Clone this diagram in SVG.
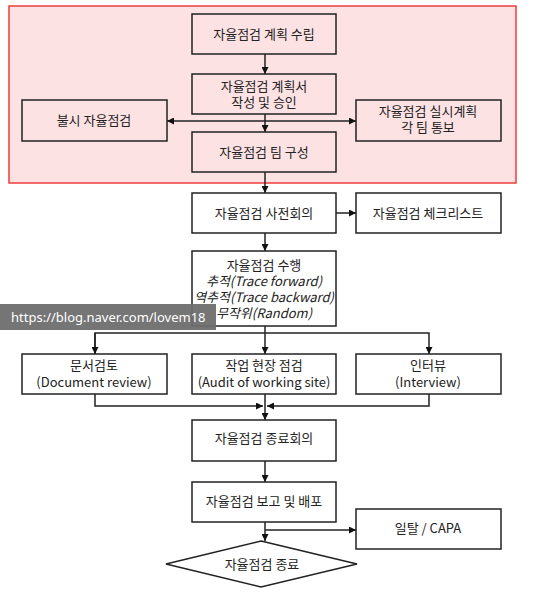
<svg xmlns="http://www.w3.org/2000/svg" width="537" height="599" viewBox="0 0 537 599">
<style>
.box{fill:#fff;stroke:#222;stroke-width:1.5}
.pbox{fill:#fde2e4;stroke:#222;stroke-width:1.5}
.t{font-family:"Noto Sans CJK KR","Malgun Gothic",sans-serif;font-size:13px;fill:#222;text-anchor:middle}
.it{font-style:italic}
.ln{fill:none;stroke:#222;stroke-width:1.5}
</style>
<defs>
<marker id="ah" viewBox="0 0 10 10" refX="10" refY="5" markerWidth="7" markerHeight="7" markerUnits="userSpaceOnUse" orient="auto-start-reverse">
<path d="M0,0 L10,5 L0,10 z" fill="#111"/>
</marker>
</defs>
<rect id="region" x="9" y="6" width="507" height="177" fill="#fde2e4" stroke="#f03c3c" stroke-width="1.5"/>
<g id="connectors">
<path class="ln" d="M265,54 V74" marker-end="url(#ah)"/>
<path class="ln" d="M265,114 V132" marker-end="url(#ah)"/>
<path class="ln" d="M167,121 H356" marker-start="url(#ah)" marker-end="url(#ah)"/>
<path class="ln" d="M265,172 V193" marker-end="url(#ah)"/>
<path class="ln" d="M336,213 H356" marker-end="url(#ah)"/>
<path class="ln" d="M265,233 V251" marker-end="url(#ah)"/>
<path class="ln" d="M265,326 V354" marker-end="url(#ah)"/>
<path class="ln" d="M95,354 V333 H429 V354" marker-end="url(#ah)"/>
<path class="ln" d="M95,333 V354" marker-end="url(#ah)"/>
<path class="ln" d="M95,394 V406 H263" marker-end="url(#ah)"/>
<path class="ln" d="M429,394 V406 H267" marker-end="url(#ah)"/>
<path class="ln" d="M265,394 V420" marker-end="url(#ah)"/>
<path class="ln" d="M265,461 V482" marker-end="url(#ah)"/>
<path class="ln" d="M265,522 V541" marker-end="url(#ah)"/>
<path class="ln" d="M265,530 H356" marker-end="url(#ah)"/>
</g>
<g id="n1"><rect class="pbox" x="192" y="14" width="144" height="40"/><text class="t" x="264" y="38.5">자율점검 계획 수립</text></g>
<g id="n2"><rect class="pbox" x="192" y="74" width="144" height="40"/><text class="t" x="264" y="90.5">자율점검 계획서<tspan x="264" dy="16">작성 및 승인</tspan></text></g>
<g id="n3"><rect class="pbox" x="22" y="100" width="145" height="41"/><text class="t" x="94" y="125">불시 자율점검</text></g>
<g id="n4"><rect class="pbox" x="356" y="100" width="145" height="41"/><text class="t" x="428" y="116">자율점검 실시계획<tspan x="428" dy="16">각 팀 통보</tspan></text></g>
<g id="n5"><rect class="pbox" x="192" y="132" width="144" height="40"/><text class="t" x="264" y="156.5">자율점검 팀 구성</text></g>
<g id="n6"><rect class="box" x="192" y="193" width="144" height="40"/><text class="t" x="264" y="217.5">자율점검 사전회의</text></g>
<g id="n7"><rect class="box" x="356" y="193" width="145" height="40"/><text class="t" x="428" y="217.5">자율점검 체크리스트</text></g>
<g id="n8"><rect class="box" x="192" y="251" width="144" height="75"/><text class="t" x="264" y="270">자율점검 수행<tspan class="it" x="264" dy="16">추적(Trace forward)</tspan><tspan class="it" x="264" dy="16">역추적(Trace backward)</tspan><tspan class="it" x="264" dy="16">무작위(Random)</tspan></text></g>
<g id="n9"><rect class="box" x="22" y="354" width="145" height="40"/><text class="t" x="94" y="370">문서검토<tspan x="94" dy="17">(Document review)</tspan></text></g>
<g id="n10"><rect class="box" x="192" y="354" width="144" height="40"/><text class="t" x="264" y="370">작업 현장 점검<tspan x="264" dy="17">(Audit of working site)</tspan></text></g>
<g id="n11"><rect class="box" x="356" y="354" width="145" height="40"/><text class="t" x="428" y="370">인터뷰<tspan x="428" dy="17">(Interview)</tspan></text></g>
<g id="n12"><rect class="box" x="192" y="420" width="144" height="41"/><text class="t" x="264" y="443">자율점검 종료회의</text></g>
<g id="n13"><rect class="box" x="192" y="482" width="144" height="40"/><text class="t" x="264" y="506">자율점검 보고 및 배포</text></g>
<g id="n14"><rect class="box" x="356" y="509" width="145" height="40"/><text class="t" x="428" y="533">일탈 / CAPA</text></g>
<g id="n15"><polygon class="box" points="261,541 357,564 261,587 166,564"/><text class="t" x="262" y="568.5">자율점검 종료</text></g>
<g id="watermark"><rect x="0" y="304" width="216" height="26" fill="#6e6e6e" fill-opacity="0.95"/><text x="11" y="322" font-family="'Noto Sans',sans-serif" font-size="13" fill="#fff">https://blog.naver.com/lovem18</text></g>
</svg>
